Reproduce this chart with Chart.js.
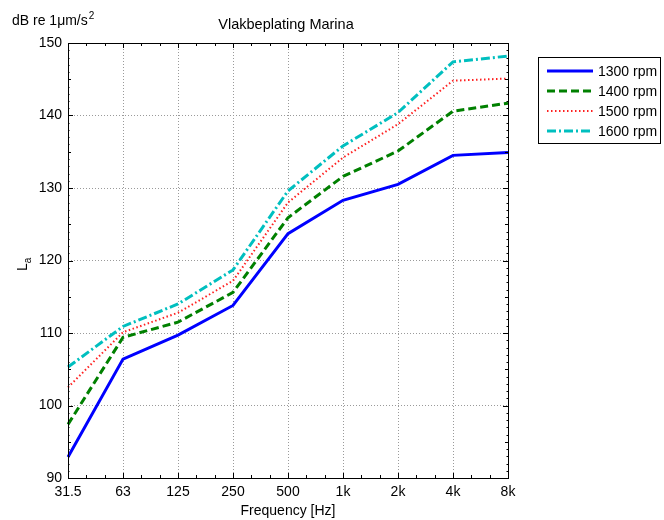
<!DOCTYPE html>
<html>
<head>
<meta charset="utf-8">
<script src="https://cdn.jsdelivr.net/npm/chart.js@4.4.0/dist/chart.umd.min.js"></script>
<style>
    html, body { margin: 0; padding: 0; background: #fff; }
    #wrap { width: 664px; height: 520px; }
</style>
</head>
<body>
<div id="wrap"><canvas id="myChart" width="664" height="520"></canvas></div>
<script>
const frequencies = ["31.5", "63", "125", "250", "500", "1k", "2k", "4k", "8k"];
const rpm1300 = [92.9, 106.4, 109.7, 113.8, 123.7, 128.3, 130.5, 134.5, 134.9];
const rpm1400 = [97.4, 109.4, 111.5, 115.6, 125.9, 131.6, 135.1, 140.6, 141.7];
const rpm1500 = [102.5, 110.1, 112.8, 117.2, 128.0, 134.2, 138.8, 144.8, 145.1];
const rpm1600 = [105.3, 110.9, 114.0, 118.7, 129.6, 135.8, 140.4, 147.4, 148.2];
const seriesNames = ["1300 rpm", "1400 rpm", "1500 rpm", "1600 rpm"];
const yMin = 90, yMax = 150, yStep = 10;

const FONT = "'Liberation Sans', Arial, sans-serif";

// frame, inner ticks, titles and the legend box (matlab style)
const decor = {
    id: "decor",
    afterDraw(chart) {
        const ctx = chart.ctx;
        const a = chart.chartArea;
        const xs = chart.scales.x, ys = chart.scales.y;
        ctx.save();
        ctx.strokeStyle = "#000";
        ctx.lineWidth = 1;
        ctx.strokeRect(Math.round(a.left) + 0.5, Math.round(a.top) + 0.5,
            Math.round(a.right - a.left), Math.round(a.bottom - a.top));

        ctx.beginPath();
        // x ticks: major at categories, two minor between
        for (let i = 0; i < frequencies.length; i++) {
            const x = Math.round(xs.getPixelForValue(i)) + 0.5;
            ctx.moveTo(x, a.bottom); ctx.lineTo(x, a.bottom - 5);
            ctx.moveTo(x, a.top); ctx.lineTo(x, a.top + 5);
            if (i < frequencies.length - 1) {
                for (let k = 1; k < 3; k++) {
                    const xm = Math.round(xs.getPixelForValue(i + k / 3)) + 0.5;
                    ctx.moveTo(xm, a.bottom); ctx.lineTo(xm, a.bottom - 3);
                    ctx.moveTo(xm, a.top); ctx.lineTo(xm, a.top + 3);
                }
            }
        }
        // y ticks
        for (let v = yMin; v <= yMax; v++) {
            const y = Math.round(ys.getPixelForValue(v)) + 0.5;
            const len = v % 10 === 0 ? 5 : (v % 5 === 0 ? 3 : 1.5);
            ctx.moveTo(a.left, y); ctx.lineTo(a.left + len, y);
            ctx.moveTo(a.right, y); ctx.lineTo(a.right - len, y);
        }
        ctx.stroke();

        // texts
        ctx.fillStyle = "#000";
        ctx.textBaseline = "alphabetic";
        ctx.textAlign = "center";
        ctx.font = "14.5px " + FONT;
        ctx.fillText("Vlakbeplating Marina", 286, 29);
        ctx.font = "14px " + FONT;
        ctx.fillText("Frequency [Hz]", (a.left + a.right) / 2, 515);

        ctx.textAlign = "left";
        const unit = "dB re 1\u03bcm/s";
        ctx.fillText(unit, 12, 25);
        const w = ctx.measureText(unit).width;
        ctx.font = "10px " + FONT;
        ctx.fillText("2", 12 + w + 1, 19);

        ctx.save();
        ctx.translate(27, 271);
        ctx.rotate(-Math.PI / 2);
        ctx.font = "14px " + FONT;
        ctx.textAlign = "left";
        ctx.fillText("L", 0, 0);
        const lw = ctx.measureText("L").width;
        ctx.font = "10px " + FONT;
        ctx.fillText("a", lw, 4);
        ctx.restore();

        // legend
        const lx = 538, ly = 57, lwid = 122, lh = 86;
        ctx.fillStyle = "#fff";
        ctx.fillRect(lx, ly, lwid, lh);
        ctx.strokeStyle = "#000";
        ctx.lineWidth = 1;
        ctx.strokeRect(lx + 0.5, ly + 0.5, lwid, lh);
        chart.data.datasets.forEach((ds, i) => {
            const y = ly + 14 + i * 20;
            ctx.save();
            ctx.strokeStyle = ds.borderColor;
            ctx.lineWidth = ds.borderWidth;
            ctx.setLineDash(ds.borderDash || []);
            ctx.beginPath();
            ctx.moveTo(547, y);
            ctx.lineTo(593, y);
            ctx.stroke();
            ctx.restore();
            ctx.fillStyle = "#000";
            ctx.font = "14px " + FONT;
            ctx.textAlign = "left";
            ctx.textBaseline = "middle";
            ctx.fillText(ds.label, 598, y + 1);
        });
        ctx.restore();
    }
};

const ctx = document.getElementById("myChart").getContext("2d");
new Chart(ctx, {
    type: "line",
    data: {
        labels: frequencies,
        datasets: [
            {label: seriesNames[0], data: rpm1300, borderColor: "#0000ff", borderWidth: 3, borderDash: []},
            {label: seriesNames[1], data: rpm1400, borderColor: "#008000", borderWidth: 3, borderDash: [8, 4]},
            {label: seriesNames[2], data: rpm1500, borderColor: "#ff2020", borderWidth: 2, borderDash: [1.5, 2.5]},
            {label: seriesNames[3], data: rpm1600, borderColor: "#00bfbf", borderWidth: 3, borderDash: [9, 3, 2, 3]}
        ]
    },
    options: {
        responsive: false,
        animation: false,
        devicePixelRatio: 1,
        elements: {
            point: {radius: 0},
            line: {tension: 0, borderCapStyle: "butt"}
        },
        layout: {
            padding: {left: 0, top: 43, right: 156, bottom: 0}
        },
        plugins: {
            legend: {display: false},
            title: {display: false},
            tooltip: {enabled: false}
        },
        scales: {
            x: {
                type: "category",
                offset: false,
                afterFit: (s) => { s.height = 42; },
                grid: {color: "#9a9a9a", drawTicks: false},
                border: {display: false, dash: [1, 2]},
                ticks: {
                    padding: 6,
                    color: "#000",
                    maxRotation: 0,
                    autoSkip: false,
                    font: {family: FONT, size: 14}
                }
            },
            y: {
                min: yMin,
                max: yMax,
                afterFit: (s) => { s.width = 68; },
                grid: {color: "#9a9a9a", drawTicks: false},
                border: {display: false, dash: [1, 2]},
                ticks: {
                    stepSize: yStep,
                    padding: 6,
                    color: "#000",
                    font: {family: FONT, size: 14}
                }
            }
        }
    },
    plugins: [decor]
});
</script>
</body>
</html>
